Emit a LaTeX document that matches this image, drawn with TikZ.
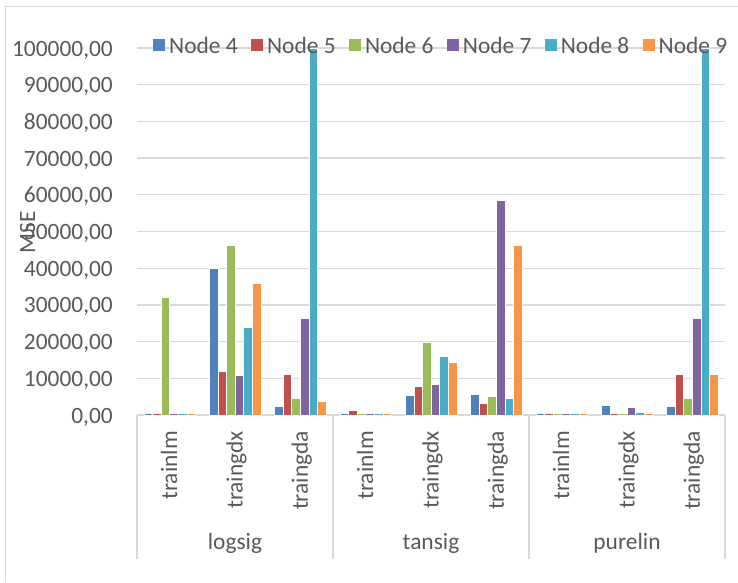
\documentclass[tikz,border=0pt]{standalone}
\usepackage{fontspec}
\setmainfont{Carlito}
\definecolor{ser0}{HTML}{4F81BD}
\definecolor{ser1}{HTML}{C0504D}
\definecolor{ser2}{HTML}{9BBB59}
\definecolor{ser3}{HTML}{8064A2}
\definecolor{ser4}{HTML}{4BACC6}
\definecolor{ser5}{HTML}{F79646}
\definecolor{txt}{HTML}{595959}
\definecolor{grid}{HTML}{D9D9D9}
\begin{document}
\begin{tikzpicture}[x=1pt,y=-1pt,
  lbl/.style={font=\fontsize{23.4}{28}\selectfont, text=txt, inner sep=0pt},
  gridline/.style={draw=grid, line width=1.3pt},
  bar/.style={draw=white, line width=0.5pt}]
\useasboundingbox (0,0) rectangle (738,582);
% chart border
\draw[grid, line width=1pt] (5,582) -- (5,6) -- (738,6);
% gridlines and y labels
\foreach \k in {1,...,10} {
  \draw[gridline] (137,{415-36.7*\k}) -- (725,{415-36.7*\k});
}
\foreach \k/\t in {0/0,1/10000,2/20000,3/30000,4/40000,5/50000,6/60000,7/70000,8/80000,9/90000,10/100000} {
  \node[lbl, anchor=base east] (yl\k) at (113,{415-36.7*\k+8}) {\t,00};
}
% x axis and category separators
\draw[gridline] (137,415) -- (725,415);
\foreach \x [count=\i] in {137,333,529,725} {
  \draw[gridline] (\x,415) -- (\x,559);
}
% bars
\foreach \vals [count=\g from 0] in {
  {0.6,0.5,32.2,0.6,0.5,0.6},
  {40.1,11.8,46.2,10.9,23.8,35.9},
  {2.5,11.0,4.7,26.5,100,3.8},
  {0.5,1.3,0.5,0.5,0.5,0.5},
  {5.3,7.8,19.9,8.3,16.1,14.4},
  {5.7,3.2,5.2,58.5,4.6,46.2},
  {0.5,0.5,0.5,0.5,0.5,0.5},
  {2.7,0.6,0.6,2.2,0.8,0.6},
  {2.5,11.0,4.7,26.5,100,11.0}} {
  \foreach \v [count=\s from 0] in \vals {
    \pgfmathsetmacro\cx{137+65.333*\g+32.667+(\s-2.5)*8.6}
    \draw[bar, fill=ser\s] (\cx-4.3,415) rectangle (\cx+4.3,{415-3.67*\v});
  }
}
% sub-category labels
\foreach \t [count=\g from 0] in {trainlm,traingdx,traingda,trainlm,traingdx,traingda,trainlm,traingdx,traingda} {
  \node[lbl, rotate=90, anchor=base east] (sc\g) at ({137+65.333*\g+32.667+7.5},431) {\t};
}
% main categories
\node[lbl, anchor=base] (c1) at (235,549) {logsig};
\node[lbl, anchor=base] (c2) at (431,549) {tansig};
\node[lbl, anchor=base] (c3) at (627,549) {purelin};
% axis title
\node[lbl, rotate=90, anchor=base] (ytitle) at (35,232) {MSE};
% legend
\foreach \n [count=\k from 0] in {4,5,6,7,8,9} {
  \fill[ser\k] ({153+97.9*\k},39) rectangle ({165+97.9*\k},51);
  \node[lbl, anchor=base west] (lg\k) at ({169+97.9*\k},53) {Node \n};
}
\end{tikzpicture}
\end{document}
